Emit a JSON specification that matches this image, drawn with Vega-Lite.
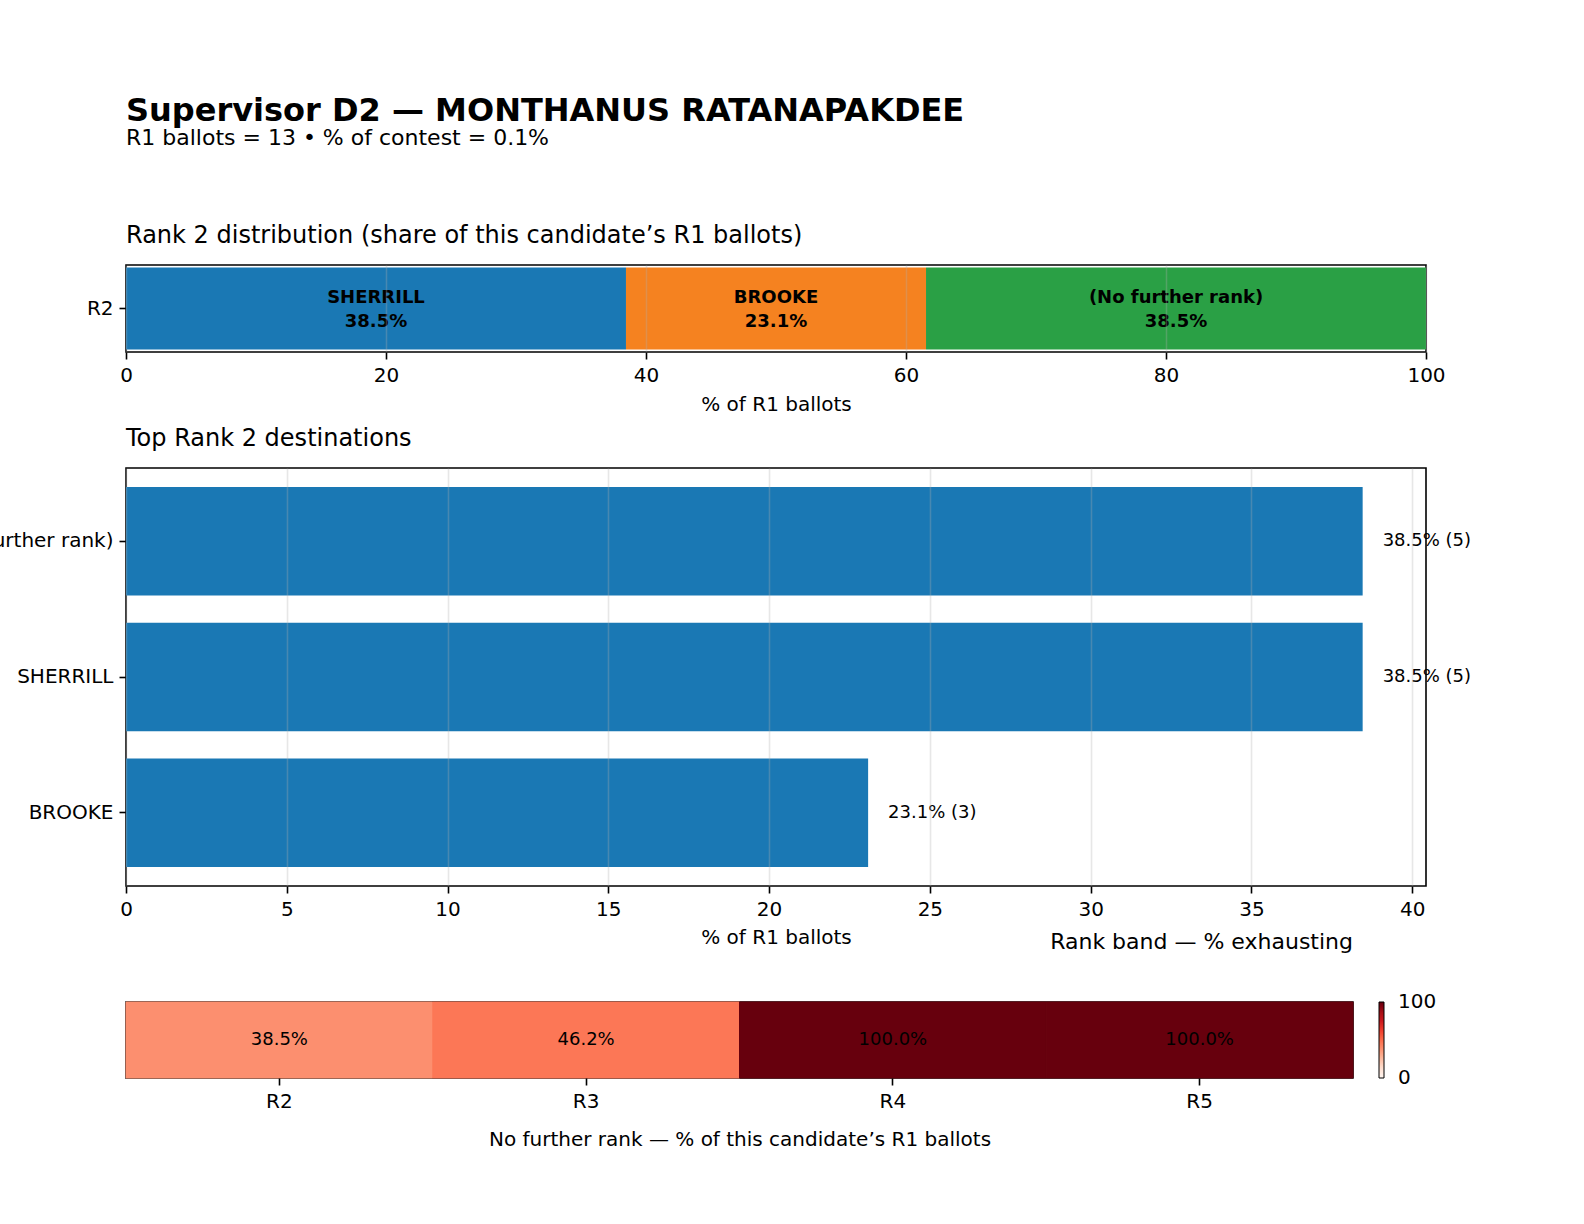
{
  "$schema": "https://vega.github.io/schema/vega-lite/v6.json",
  "autosize": {"type": "none"},
  "padding": {"left": 126, "top": 265, "right": 1458, "bottom": 900},
  "background": "#ffffff",
  "bounds": "flush",
  "spacing": 116,
  "title": {
    "text": "Supervisor D2 — MONTHANUS RATANAPAKDEE",
    "subtitle": "R1 ballots = 13 • % of contest = 0.1%",
    "anchor": "start",
    "frame": "group",
    "fontSize": 32,
    "fontWeight": "bold",
    "subtitleFontSize": 22,
    "subtitlePadding": 0,
    "offset": 73,
    "color": "#000000",
    "subtitleColor": "#000000"
  },
  "config": {
    "font": "DejaVu Sans",
    "view": {"stroke": "#000000", "strokeWidth": 1.6},
    "axis": {
      "labelFontSize": 20,
      "titleFontSize": 20,
      "titleFontWeight": "normal",
      "labelColor": "#000000",
      "titleColor": "#000000",
      "tickColor": "#000000",
      "tickSize": 7,
      "tickWidth": 1.6,
      "domain": false,
      "labelFlush": false,
      "labelPadding": 6,
      "gridColor": "#b0b0b0",
      "gridOpacity": 0.3,
      "gridWidth": 1.6
    },
    "title": {
      "fontSize": 24,
      "fontWeight": "normal",
      "anchor": "start",
      "frame": "group",
      "color": "#000000",
      "baseline": "alphabetic",
      "offset": 17
    }
  },
  "datasets": {
    "rank2": [
      {"row": "R2", "name": "SHERRILL", "pct": 38.46, "order": 1, "label": "SHERRILL\n38.5%"},
      {"row": "R2", "name": "BROOKE", "pct": 23.08, "order": 2, "label": "BROOKE\n23.1%"},
      {"row": "R2", "name": "(No further rank)", "pct": 38.46, "order": 3, "label": "(No further rank)\n38.5%"}
    ],
    "top": [
      {"name": "(No further rank)", "pct": 38.46, "count": 5, "label": "38.5% (5)"},
      {"name": "SHERRILL", "pct": 38.46, "count": 5, "label": "38.5% (5)"},
      {"name": "BROOKE", "pct": 23.08, "count": 3, "label": "23.1% (3)"}
    ],
    "exhaust": [
      {"rank": "R2", "pct": 38.46, "label": "38.5%"},
      {"rank": "R3", "pct": 46.15, "label": "46.2%"},
      {"rank": "R4", "pct": 100, "label": "100.0%"},
      {"rank": "R5", "pct": 100, "label": "100.0%"}
    ]
  },
  "vconcat": [
    {
      "width": 1300,
      "height": 87,
      "title": {"text": "Rank 2 distribution (share of this candidate’s R1 ballots)"},
      "data": {"name": "rank2"},
      "transform": [
        {"stack": "pct", "groupby": ["row"], "sort": [{"field": "order", "order": "ascending"}], "as": ["x0", "x1"]},
        {"calculate": "(datum.x0 + datum.x1) / 2", "as": "xm"}
      ],
      "encoding": {
        "y": {
          "field": "row",
          "type": "nominal",
          "scale": {"paddingInner": 0, "paddingOuter": 0.03},
          "axis": {"title": null, "grid": false}
        }
      },
      "layer": [
        {
          "mark": {"type": "bar"},
          "encoding": {
            "x": {
              "field": "x0",
              "type": "quantitative",
              "scale": {"domain": [0, 100], "nice": false},
              "axis": {"title": "% of R1 ballots", "values": [0, 20, 40, 60, 80, 100], "grid": true, "zindex": 1, "titlePadding": 9}
            },
            "x2": {"field": "x1"},
            "color": {
              "field": "name",
              "type": "nominal",
              "scale": {"domain": ["SHERRILL", "BROOKE", "(No further rank)"], "range": ["#1a78b4", "#f58220", "#2aa045"]},
              "legend": null
            }
          }
        },
        {
          "mark": {"type": "text", "fontSize": 18, "fontWeight": "bold", "lineBreak": "\n", "lineHeight": 24, "dy": -11, "color": "#000000"},
          "encoding": {
            "x": {"field": "xm", "type": "quantitative"},
            "text": {"field": "label"}
          }
        }
      ]
    },
    {
      "width": 1300,
      "height": 418,
      "title": {"text": "Top Rank 2 destinations"},
      "data": {"name": "top"},
      "encoding": {
        "y": {
          "field": "name",
          "type": "nominal",
          "sort": ["(No further rank)", "SHERRILL", "BROOKE"],
          "scale": {"paddingInner": 0.2, "paddingOuter": 0.14},
          "axis": {"title": null, "grid": false}
        },
        "x": {
          "field": "pct",
          "type": "quantitative",
          "scale": {"domain": [0, 40.43], "nice": false},
          "axis": {"title": "% of R1 ballots", "values": [0, 5, 10, 15, 20, 25, 30, 35, 40], "grid": true, "zindex": 1, "titlePadding": 8}
        }
      },
      "layer": [
        {"mark": {"type": "bar", "color": "#1a78b4"}},
        {
          "mark": {"type": "text", "align": "left", "baseline": "middle", "dx": 20, "fontSize": 18, "color": "#000000"},
          "encoding": {"text": {"field": "label"}}
        }
      ]
    },
    {
      "width": 1227,
      "height": 76,
      "title": {"text": "Rank band — % exhausting", "anchor": "end", "fontSize": 22, "offset": 48},
      "data": {"name": "exhaust"},
      "encoding": {
        "x": {
          "field": "rank",
          "type": "nominal",
          "scale": {"paddingInner": 0, "paddingOuter": 0},
          "axis": {"title": "No further rank — % of this candidate’s R1 ballots", "labelAngle": 0, "grid": false, "titlePadding": 18}
        }
      },
      "layer": [
        {
          "mark": {"type": "rect", "strokeWidth": 1},
          "encoding": {
            "color": {
              "field": "pct",
              "type": "quantitative",
              "scale": {
                "domain": [0, 12.5, 25, 37.5, 50, 62.5, 75, 87.5, 100],
                "range": ["#fff5f0", "#fee0d2", "#fcbba1", "#fc9272", "#fb6a4a", "#ef3b2c", "#cb181d", "#a50f15", "#67000d"]
              },
              "legend": {
                "title": null,
                "orient": "right",
                "direction": "vertical",
                "values": [0.001, 99.999],
                "format": ".0f",
                "gradientLength": 76,
                "gradientThickness": 5,
                "gradientStrokeColor": "#000000",
                "gradientStrokeWidth": 1,
                "offset": 26,
                "labelFontSize": 20,
                "labelColor": "#000000",
                "labelOffset": 14,
                "labelOverlap": false
              }
            },
            "stroke": {
              "field": "pct",
              "type": "quantitative",
              "scale": {
                "domain": [0, 12.5, 25, 37.5, 50, 62.5, 75, 87.5, 100],
                "range": ["#fff5f0", "#fee0d2", "#fcbba1", "#fc9272", "#fb6a4a", "#ef3b2c", "#cb181d", "#a50f15", "#67000d"]
              },
              "legend": null
            }
          }
        },
        {
          "mark": {"type": "text", "fontSize": 18, "color": "#000000"},
          "encoding": {"text": {"field": "label"}}
        }
      ]
    }
  ]
}
